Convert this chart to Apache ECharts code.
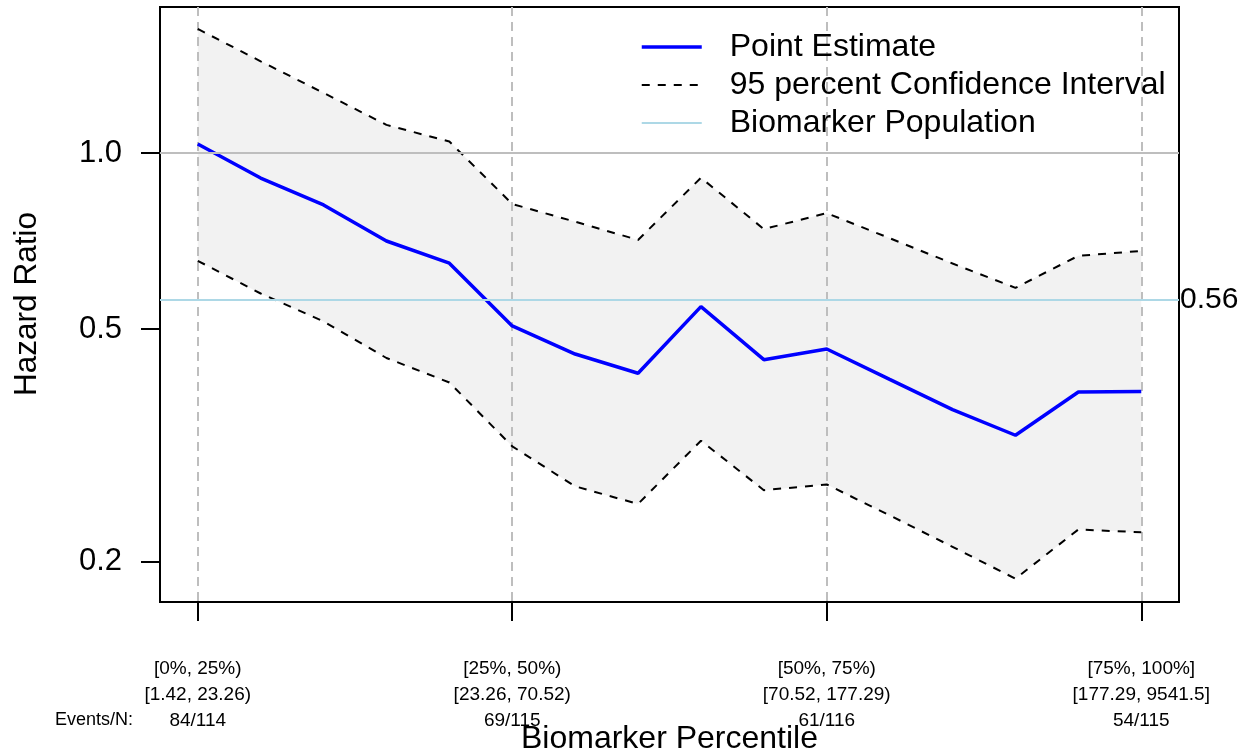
<!DOCTYPE html>
<html>
<head>
<meta charset="utf-8">
<script src="https://cdn.jsdelivr.net/npm/echarts@6/dist/echarts.min.js"></script>
<style>html,body{margin:0;padding:0;background:#fff;}#chart{width:1250px;height:752px;}</style>
</head>
<body>
<div id="chart"></div>
<script>
// ---- data ----
const xIndex = [0,1,2,3,4,5,6,7,8,9,10,11,12,13,14,15];
const pointEstimate = [1.036, 0.906, 0.815, 0.707, 0.648, 0.506, 0.453, 0.420, 0.546, 0.443, 0.462, 0.410, 0.364, 0.329, 0.390, 0.391];
const upperCI = [1.630, 1.435, 1.267, 1.117, 1.046, 0.818, 0.763, 0.710, 0.907, 0.741, 0.789, 0.715, 0.647, 0.588, 0.667, 0.680];
const lowerCI = [0.654, 0.575, 0.515, 0.446, 0.405, 0.315, 0.269, 0.251, 0.322, 0.265, 0.271, 0.240, 0.212, 0.187, 0.227, 0.2245];
const populationHR = 0.556;
const referenceHR = 1.0;
const xTickValues = [0, 5, 10, 15];
const percentileLabels = ['[0%, 25%)', '[25%, 50%)', '[50%, 75%)', '[75%, 100%]'];
const rangeLabels = ['[1.42, 23.26)', '[23.26, 70.52)', '[70.52, 177.29)', '[177.29, 9541.5]'];
const eventLabels = ['84/114', '69/115', '61/116', '54/115'];
const yTickValues = [0.2, 0.5, 1.0];

const FONT = 'Liberation Sans';
const chart = echarts.init(document.getElementById('chart'), null, {renderer: 'canvas'});

const pairs = arr => xIndex.map((x, i) => [x, arr[i]]);
const NOFILL = 'rgba(0,0,0,0)';

const option = {
  animation: false,
  backgroundColor: '#ffffff',
  textStyle: {fontFamily: FONT, color: '#000'},
  grid: {left: 160, right: 71, top: 7, bottom: 150, show: true, borderColor: '#000', borderWidth: 2, backgroundColor: 'transparent'},
  legend: {
    orient: 'vertical', left: 635, top: 26,
    itemWidth: 60, itemHeight: 20, itemGap: 6,
    itemStyle: {opacity: 0},
    lineStyle: {width: 'inherit'},
    textStyle: {fontFamily: FONT, fontSize: 32, color: '#000', lineHeight: 32, padding: [0, 0, 0, 23]},
    data: ['Point Estimate', '95 percent Confidence Interval', 'Biomarker Population'],
    selectedMode: false
  },
  xAxis: {
    type: 'value', min: -0.6, max: 15.6,
    axisLine: {show: false, onZero: false},
    axisTick: {show: true, length: 19, customValues: xTickValues, lineStyle: {color: '#000', width: 2}},
    axisLabel: {
      customValues: xTickValues, margin: 54, fontFamily: FONT, fontSize: 19, lineHeight: 26, color: '#000', align: 'center',
      formatter: v => { const k = xTickValues.indexOf(v); return k < 0 ? '' : percentileLabels[k] + '\n' + rangeLabels[k] + '\n' + eventLabels[k]; }
    },
    splitLine: {show: true, lineStyle: {color: '#bebebe', width: 2, type: [9, 6]}}
  },
  yAxis: {
    type: 'log', logBase: 10, min: 0.1706, max: 1.777,
    axisLine: {show: false, onZero: false},
    axisTick: {show: true, length: 19, customValues: yTickValues, lineStyle: {color: '#000', width: 2}},
    axisLabel: {customValues: yTickValues, margin: 38, fontFamily: FONT, fontSize: 31, color: '#000', formatter: v => Number(v).toFixed(1)},
    splitLine: {show: false},
    minorTick: {show: false}
  },
  graphic: [
    {type: 'text', x: 27, y: 304, rotation: Math.PI / 2,
     style: {text: 'Hazard Ratio', fontFamily: FONT, fontSize: 31.5, fill: '#000', align: 'center', verticalAlign: 'middle'}},
    {type: 'text', x: 669.5, y: 739,
     style: {text: 'Biomarker Percentile', fontFamily: FONT, fontSize: 32, fill: '#000', align: 'center', verticalAlign: 'middle'}},
    {type: 'text', x: 133, y: 720,
     style: {text: 'Events/N:', fontFamily: FONT, fontSize: 18, fill: '#000', align: 'right', verticalAlign: 'middle'}}
  ],
  series: [
    {
      name: 'CI band', type: 'custom', z: -1, silent: true,
      data: [[xIndex[0], upperCI[0]]],
      renderItem: (params, api) => {
        if (params.dataIndex !== 0) return null;
        const pts = [];
        for (let i = 0; i < xIndex.length; i++) pts.push(api.coord([xIndex[i], upperCI[i]]));
        for (let i = xIndex.length - 1; i >= 0; i--) pts.push(api.coord([xIndex[i], lowerCI[i]]));
        return {type: 'polygon', shape: {points: pts}, style: {fill: '#f2f2f2', stroke: null}};
      }
    },
    {
      name: 'Biomarker Population', type: 'line', data: [], symbol: 'none',
      lineStyle: {color: '#add8e6', width: 2}, itemStyle: {color: NOFILL},
      markLine: {
        silent: true, symbol: 'none',
        lineStyle: {color: '#add8e6', width: 2, type: 'solid'},
        label: {show: true, position: 'end', distance: 1, formatter: () => populationHR.toFixed(2), fontFamily: FONT, fontSize: 30, color: '#000'},
        data: [{yAxis: populationHR}]
      }
    },
    {
      name: 'Reference', type: 'line', data: [], symbol: 'none',
      lineStyle: {color: '#bebebe', width: 2}, itemStyle: {color: NOFILL},
      markLine: {
        silent: true, symbol: 'none',
        lineStyle: {color: '#bebebe', width: 2, type: 'solid'},
        label: {show: false},
        data: [{yAxis: referenceHR}]
      }
    },
    {
      name: '95 percent Confidence Interval', type: 'line', data: pairs(upperCI), symbol: 'none',
      lineStyle: {color: '#000', width: 2, type: [8, 8]}, itemStyle: {color: NOFILL}
    },
    {
      name: '95 percent Confidence Interval', type: 'line', data: pairs(lowerCI), symbol: 'none',
      lineStyle: {color: '#000', width: 2, type: [8, 8]}, itemStyle: {color: NOFILL}
    },
    {
      name: 'Point Estimate', type: 'line', data: pairs(pointEstimate), symbol: 'none',
      lineStyle: {color: '#0000ff', width: 3.5}, itemStyle: {color: NOFILL}
    }
  ]
};
chart.setOption(option);
</script>
</body>
</html>
